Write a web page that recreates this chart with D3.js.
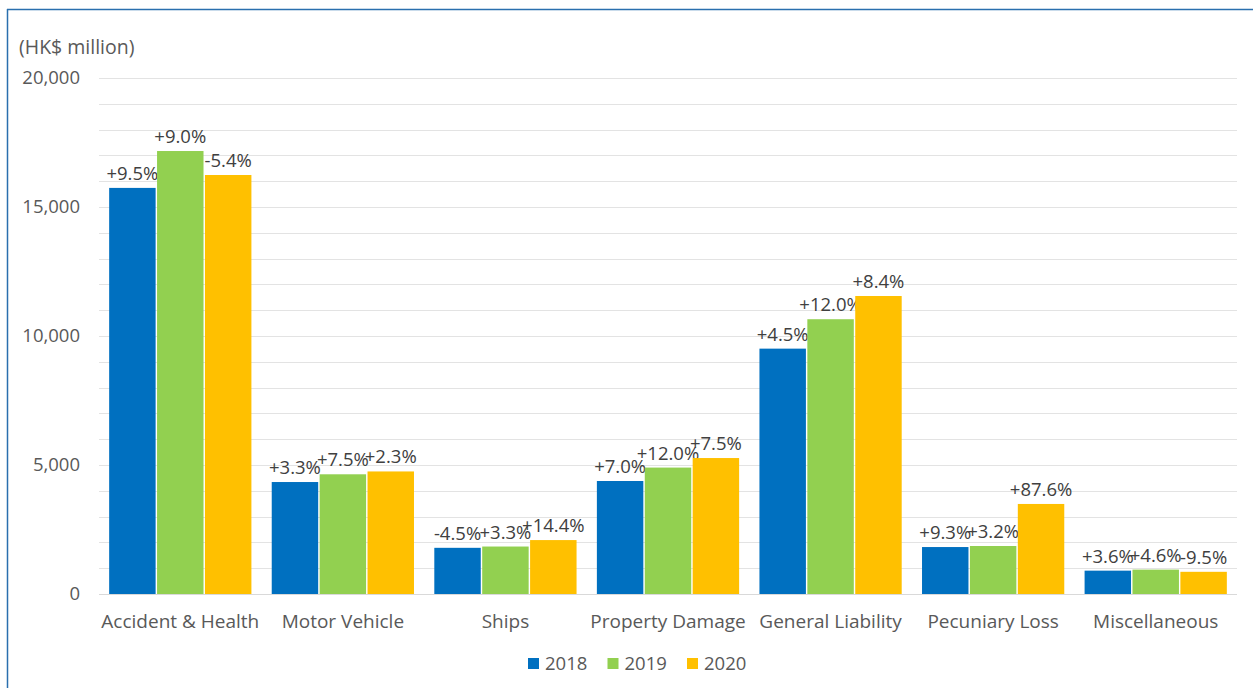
<!DOCTYPE html>
<html>
<head>
<meta charset="utf-8">
<script src="https://cdn.jsdelivr.net/npm/d3@7"></script>
<style>
  html, body { margin: 0; padding: 0; background: #ffffff; }
  svg { display: block; font-family: "Open Sans", "Noto Sans", sans-serif; }
</style>
</head>
<body>
<svg id="chart" width="1253" height="688"></svg>
<script>
// Gross premiums by class of business (HK$ million)
const categories = ["Accident & Health", "Motor Vehicle", "Ships", "Property Damage",
                    "General Liability", "Pecuniary Loss", "Miscellaneous"];
const years = ["2018", "2019", "2020"];
const values2018 = [15740, 4340, 1790, 4380, 9510, 1820, 905];
const values2019 = [17170, 4640, 1840, 4900, 10650, 1860, 945];
const values2020 = [16240, 4750, 2090, 5270, 11550, 3490, 860];
const growth2018 = ["+9.5%", "+3.3%", "-4.5%", "+7.0%", "+4.5%", "+9.3%", "+3.6%"];
const growth2019 = ["+9.0%", "+7.5%", "+3.3%", "+12.0%", "+12.0%", "+3.2%", "+4.6%"];
const growth2020 = ["-5.4%", "+2.3%", "+14.4%", "+7.5%", "+8.4%", "+87.6%", "-9.5%"];
const yTicks = [0, 5000, 10000, 15000, 20000];
const gridTicks = d3.range(0, 20001, 1000);
const colors = ["#0070C0", "#92D050", "#FFC000"];
const unitLabel = "(HK$ million)";

const seriesValues = [values2018, values2019, values2020];
const seriesLabels = [growth2018, growth2019, growth2020];

const svg = d3.select("#chart");
const margin = { left: 99, right: 16, top: 78, bottom: 94 };
const W = 1253, H = 688;
const textColor = "#595959";

// frame
svg.append("line").attr("x1", 7.5).attr("x2", 7.5).attr("y1", 9).attr("y2", H)
  .attr("stroke", "#2a6fae").attr("stroke-width", 1.5);
svg.append("line").attr("x1", 7).attr("x2", W).attr("y1", 9.5).attr("y2", 9.5)
  .attr("stroke", "#2a6fae").attr("stroke-width", 1.5);

const x = d3.scaleBand().domain(categories)
  .range([margin.left, W - margin.right]).paddingInner(0.125).paddingOuter(0.0625);
const xs = d3.scaleBand().domain(years).range([0, x.bandwidth()]).paddingInner(0.03);
const y = d3.scaleLinear().domain([0, 20000]).range([H - margin.bottom, margin.top]);

// gridlines
svg.append("g").selectAll("line").data(gridTicks).join("line")
  .attr("x1", margin.left).attr("x2", W - margin.right)
  .attr("y1", d => Math.round(y(d)) + 0.5).attr("y2", d => Math.round(y(d)) + 0.5)
  .attr("stroke", "#e3e3e3").attr("stroke-width", 1);

// y axis labels
const yAxis = d3.axisLeft(y).tickValues(yTicks).tickFormat(d3.format(",")).tickSize(0).tickPadding(0);
const ya = svg.append("g").attr("transform", "translate(80,0)").call(yAxis);
ya.select(".domain").remove();
ya.selectAll("text").attr("font-size", 18.5).attr("fill", textColor)
  .attr("font-family", "'Open Sans', sans-serif");

svg.append("text").attr("x", 19).attr("y", 54).text(unitLabel)
  .attr("font-size", 19.5).attr("fill", textColor);

// bars
const groups = svg.append("g").selectAll("g").data(categories).join("g")
  .attr("transform", d => `translate(${x(d)},0)`);

years.forEach((yr, si) => {
  groups.append("rect")
    .attr("x", xs(yr))
    .attr("width", xs.bandwidth())
    .attr("y", (d, i) => y(seriesValues[si][i]))
    .attr("height", (d, i) => y(0) - y(seriesValues[si][i]))
    .attr("fill", colors[si]);
  groups.append("text")
    .attr("x", xs(yr) + xs.bandwidth() / 2)
    .attr("y", (d, i) => y(seriesValues[si][i]) - 8)
    .attr("text-anchor", "middle")
    .attr("font-size", 18.5).attr("fill", "#404040")
    .text((d, i) => seriesLabels[si][i]);
});

// x axis baseline and labels
svg.append("line").attr("x1", margin.left).attr("x2", W - margin.right)
  .attr("y1", Math.round(y(0)) + 0.5).attr("y2", Math.round(y(0)) + 0.5)
  .attr("stroke", "#d9d9d9");
const xAxis = d3.axisBottom(x).tickSize(0).tickPadding(0);
const xa = svg.append("g").attr("transform", `translate(0,${y(0)})`).call(xAxis);
xa.select(".domain").remove();
xa.selectAll("text").attr("y", 34).attr("dy", null).attr("font-size", 19).attr("fill", textColor)
  .attr("font-family", "'Open Sans', sans-serif");

// legend
const legend = svg.append("g").attr("transform", "translate(528,658)");
const li = legend.selectAll("g").data(years).join("g")
  .attr("transform", (d, i) => `translate(${i * 79.5},0)`);
li.append("rect").attr("width", 11).attr("height", 11).attr("fill", (d, i) => colors[i]);
li.append("text").attr("x", 17).attr("y", 12).text(d => d)
  .attr("font-size", 18.5).attr("fill", textColor);
</script>
</body>
</html>
